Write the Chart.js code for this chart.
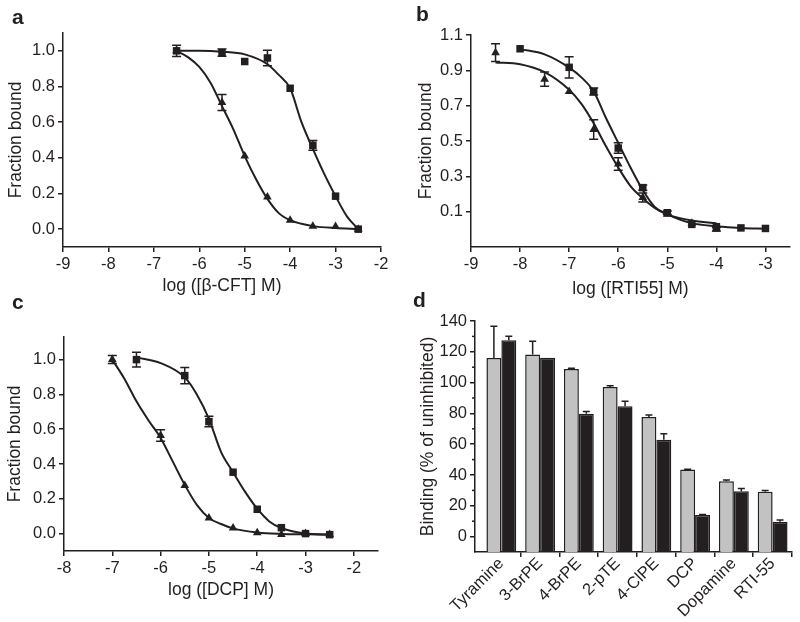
<!DOCTYPE html>
<html>
<head>
<meta charset="utf-8">
<script src="https://cdn.jsdelivr.net/npm/chart.js@4.4.1/dist/chart.umd.min.js"></script>
<style>
  body { margin: 0; background: #fff; }
  #wrap { position: relative; width: 800px; height: 622px; font-family: 'Liberation Sans', Arial, sans-serif; }
  canvas { position: absolute; }
  .tag { position: absolute; font-weight: bold; font-size: 21px; line-height: 1; color: #231f20; }
</style>
</head>
<body>
<div id="wrap">
  <canvas id="chartA" width="400" height="300" style="left:0;top:0"></canvas>
  <canvas id="chartB" width="400" height="300" style="left:400px;top:0"></canvas>
  <canvas id="chartC" width="400" height="322" style="left:0;top:300px"></canvas>
  <canvas id="chartD" width="400" height="322" style="left:400px;top:300px"></canvas>
  <div class="tag" style="left:12px;top:6px">a</div>
  <div class="tag" style="left:416px;top:3px">b</div>
  <div class="tag" style="left:12px;top:291px">c</div>
  <div class="tag" style="left:413px;top:289px">d</div>
</div>
<script>
// ---- panel a: beta-CFT
const aXTicks = [-9, -8, -7, -6, -5, -4, -3, -2];
const aYTicks = [0, 0.2, 0.4, 0.6, 0.8, 1.0];
const aSqX = [-6.5, -5.5, -5, -4.5, -4, -3.5, -3, -2.5];
const aSqY = [1.0, 0.99, 0.94, 0.96, 0.79, 0.47, 0.185, 0.0];
const aSqErr = [0.032, 0.02, 0, 0.043, 0, 0.027, 0, 0];
const aTriX = [-6.5, -5.5, -5, -4.5, -4, -3.5, -3, -2.5];
const aTriY = [1.0, 0.71, 0.41, 0.18, 0.05, 0.017, 0.015, 0.0];
const aTriErr = [0, 0.045, 0, 0, 0, 0, 0, 0];
const aFitSqX = [-6.5, -6, -5.5, -5, -4.5, -4.25, -4, -3.75, -3.5, -3.25, -3, -2.75, -2.5];
const aFitSqY = [1.0, 1.0, 0.995, 0.98, 0.925, 0.865, 0.79, 0.60, 0.45, 0.31, 0.185, 0.072, 0.0];
const aFitTriX = [-6.5, -6.25, -6, -5.75, -5.5, -5.25, -5, -4.75, -4.5, -4.25, -4, -3.75, -3.5, -3, -2.5];
const aFitTriY = [1.0, 0.965, 0.91, 0.82, 0.69, 0.56, 0.41, 0.28, 0.17, 0.09, 0.05, 0.03, 0.017, 0.006, 0.0];

// ---- panel b: RTI55
const bXTicks = [-9, -8, -7, -6, -5, -4, -3];
const bYTicks = [0.1, 0.3, 0.5, 0.7, 0.9, 1.1];
const bSqX = [-8, -7, -6.5, -6, -5.5, -5, -4.5, -4, -3.5, -3];
const bSqY = [1.022, 0.917, 0.78, 0.46, 0.236, 0.094, 0.028, 0.015, 0.008, 0.005];
const bSqErr = [0, 0.06, 0.02, 0.03, 0.015, 0.01, 0, 0, 0, 0];
const bTriX = [-8.5, -7.5, -7, -6.5, -6, -5.5, -5, -4.5, -4];
const bTriY = [1.0, 0.85, 0.78, 0.565, 0.37, 0.18, 0.085, 0.035, 0.0];
const bTriErr = [0.05, 0.04, 0, 0.055, 0.035, 0.025, 0, 0, 0.01];
const bFitSqX = [-8, -7.5, -7, -6.75, -6.5, -6.25, -6, -5.75, -5.5, -5.25, -5, -4.5, -4, -3.5, -3];
const bFitSqY = [1.02, 0.99, 0.915, 0.86, 0.78, 0.63, 0.49, 0.35, 0.223, 0.125, 0.085, 0.035, 0.018, 0.008, 0.004];
const bFitTriX = [-8.5, -8, -7.5, -7, -6.75, -6.5, -6.25, -6, -5.75, -5.5, -5.25, -5, -4.5, -4];
const bFitTriY = [0.945, 0.935, 0.89, 0.79, 0.71, 0.60, 0.47, 0.35, 0.245, 0.176, 0.12, 0.085, 0.05, 0.035];

// ---- panel c: DCP
const cXTicks = [-8, -7, -6, -5, -4, -3, -2];
const cYTicks = [0, 0.2, 0.4, 0.6, 0.8, 1.0];
const cSqX = [-6.5, -5.5, -5, -4.5, -4, -3.5, -3, -2.5];
const cSqY = [1.0, 0.908, 0.644, 0.353, 0.14, 0.034, 0.0, -0.006];
const cSqErr = [0.043, 0.046, 0.03, 0, 0, 0, 0, 0];
const cTriX = [-7, -6, -5.5, -5, -4.5, -4, -3.5, -3, -2.5];
const cTriY = [1.0, 0.564, 0.277, 0.09, 0.032, 0.005, -0.005, 0.0, -0.005];
const cTriErr = [0.023, 0.033, 0, 0, 0, 0, 0, 0, 0];
const cFitSqX = [-6.5, -6, -5.5, -5.25, -5, -4.75, -4.5, -4.25, -4, -3.75, -3.5, -3, -2.5];
const cFitSqY = [1.013, 0.98, 0.898, 0.80, 0.66, 0.47, 0.353, 0.24, 0.143, 0.07, 0.032, 0.0, -0.006];
const cFitTriX = [-7, -6.75, -6.5, -6.25, -6, -5.75, -5.5, -5.25, -5, -4.75, -4.5, -4, -3.5, -3, -2.5];
const cFitTriY = [1.0, 0.89, 0.76, 0.65, 0.55, 0.415, 0.28, 0.165, 0.09, 0.055, 0.03, 0.006, -0.002, -0.004, -0.005];

// ---- panel d: binding bars
const dCategories = ['Tyramine', '3-BrPE', '4-BrPE', '2-pTE', '4-ClPE', 'DCP', 'Dopamine', 'RTI-55'];
const dGray = [116, 118.3, 108.9, 97.2, 77.6, 43.5, 36.0, 29.2];
const dGrayErr = [20.6, 8.6, 0.4, 0.7, 1.3, 0.2, 0.8, 0.8];
const dBlack = [127.5, 116.1, 79.7, 84.7, 62.9, 14.0, 29.5, 9.6];
const dBlackErr = [2.6, 0, 1.5, 3.2, 3.9, 0.3, 1.7, 1.1];
const dYTicks = [0, 20, 40, 60, 80, 100, 120, 140];
const dYMinor = [10, 30, 50, 70, 90, 110, 130];

const ink = '#231f20';
const family = "'Liberation Sans', Arial, sans-serif";
const tickFont = { family: family, size: 16.5 };
const titleFont = { family: family, size: 17.5 };
Chart.defaults.font.family = family;
Chart.defaults.color = ink;

// error bars drawn through the y scale
const errorBars = {
  id: 'errorBars',
  afterDatasetsDraw(chart, args, opts) {
    const ctx = chart.ctx;
    const ys = chart.scales.y;
    const half = (opts.cap || 9) / 2;
    chart.data.datasets.forEach((ds, i) => {
      if (!ds.errors) return;
      const meta = chart.getDatasetMeta(i);
      ctx.save();
      ctx.strokeStyle = ink;
      ctx.lineWidth = 1.5;
      meta.data.forEach((el, j) => {
        const err = ds.errors[j];
        if (!err) return;
        const v = meta.controller.getParsed(j).y;
        const top = ys.getPixelForValue(v + err);
        const bot = ds.upOnly ? ys.getPixelForValue(v) : ys.getPixelForValue(v - err);
        ctx.beginPath();
        ctx.moveTo(el.x, top); ctx.lineTo(el.x, bot);
        ctx.moveTo(el.x - half, top); ctx.lineTo(el.x + half, top);
        if (!ds.upOnly) { ctx.moveTo(el.x - half, bot); ctx.lineTo(el.x + half, bot); }
        ctx.stroke();
      });
      ctx.restore();
    });
  }
};

// short minor ticks on the y axis
const minorTicks = {
  id: 'minorTicks',
  afterDraw(chart, args, opts) {
    if (!opts.values) return;
    const s = chart.scales.y;
    const ctx = chart.ctx;
    ctx.save();
    ctx.strokeStyle = ink;
    ctx.lineWidth = 1.5;
    opts.values.forEach(v => {
      const y = s.getPixelForValue(v);
      ctx.beginPath();
      ctx.moveTo(s.right - opts.length, y);
      ctx.lineTo(s.right, y);
      ctx.stroke();
    });
    ctx.restore();
  }
};

function pts(xs, ys) {
  return xs.map((x, i) => ({ x: x, y: ys[i] }));
}

function markers(xs, ys, errs, style, r) {
  return {
    data: pts(xs, ys), errors: errs, showLine: false,
    pointStyle: style, pointRadius: r, pointHoverRadius: r,
    backgroundColor: ink, borderColor: ink, borderWidth: 0, order: 0
  };
}

function fitLine(xs, ys) {
  return {
    data: pts(xs, ys), showLine: true, pointRadius: 0, pointHoverRadius: 0,
    borderColor: ink, borderWidth: 2, cubicInterpolationMode: 'monotone', order: 1
  };
}

function axisStyle() {
  return {
    grid: { drawOnChartArea: false, tickLength: 5, color: ink, lineWidth: 1.5 },
    border: { color: ink, width: 1.5 }
  };
}

function curveChart(id, p) {
  return new Chart(document.getElementById(id), {
    type: 'scatter',
    data: { datasets: p.datasets },
    options: {
      responsive: false,
      animation: false,
      layout: { padding: { top: p.top, right: p.right, left: 0, bottom: 0 } },
      plugins: { legend: { display: false }, tooltip: { enabled: false }, errorBars: { cap: 9 } },
      scales: {
        x: Object.assign(axisStyle(), {
          min: p.xMin, max: p.xMax,
          afterBuildTicks: s => { s.ticks = p.xTicks.map(v => ({ value: v })); },
          afterFit: s => { s.height = p.xHeight; },
          ticks: { font: tickFont, color: ink, padding: 3, callback: v => String(v) },
          title: { display: true, text: p.xTitle, font: titleFont, color: ink, padding: { top: 0, bottom: p.xTitlePad } }
        }),
        y: Object.assign(axisStyle(), {
          min: p.yMin, max: p.yMax,
          afterBuildTicks: s => { s.ticks = p.yTicks.map(v => ({ value: v })); },
          afterFit: s => { s.width = p.yWidth; },
          ticks: { font: tickFont, color: ink, padding: 3, callback: v => v.toFixed(1) },
          title: { display: true, text: 'Fraction bound', font: titleFont, color: ink, padding: { top: p.yTitlePad, bottom: 0 } }
        })
      }
    },
    plugins: [errorBars]
  });
}

curveChart('chartA', {
  datasets: [
    markers(aTriX, aTriY, aTriErr, 'triangle', 5),
    markers(aSqX, aSqY, aSqErr, 'rect', 5.3),
    fitLine(aFitSqX, aFitSqY),
    fitLine(aFitTriX, aFitTriY)
  ],
  xMin: -9, xMax: -2, xTicks: aXTicks, xTitle: 'log ([β-CFT] M)',
  yMin: -0.1, yMax: 1.1, yTicks: aYTicks,
  top: 33, right: 19, xHeight: 53, yWidth: 63, xTitlePad: 3, yTitlePad: 6
});

curveChart('chartB', {
  datasets: [
    markers(bTriX, bTriY, bTriErr, 'triangle', 5),
    markers(bSqX, bSqY, bSqErr, 'rect', 5.3),
    fitLine(bFitSqX, bFitSqY),
    fitLine(bFitTriX, bFitTriY)
  ],
  xMin: -9, xMax: -2.5, xTicks: bXTicks, xTitle: 'log ([RTI55] M)',
  yMin: -0.1, yMax: 1.1, yTicks: bYTicks,
  top: 35, right: 10, xHeight: 53, yWidth: 71, xTitlePad: 0, yTitlePad: 16
});

curveChart('chartC', {
  datasets: [
    markers(cTriX, cTriY, cTriErr, 'triangle', 5),
    markers(cSqX, cSqY, cSqErr, 'rect', 5.3),
    fitLine(cFitSqX, cFitSqY),
    fitLine(cFitTriX, cFitTriY)
  ],
  xMin: -8, xMax: -1.5, xTicks: cXTicks, xTitle: 'log ([DCP] M)',
  yMin: -0.1, yMax: 1.13, yTicks: cYTicks,
  top: 37, right: 22, xHeight: 71, yWidth: 64, xTitlePad: 21, yTitlePad: 5
});

// bar chart on a linear index axis so the first group sits a little off the y axis
const dPos = dCategories.map((c, i) => i + 0.5);
new Chart(document.getElementById('chartD'), {
  type: 'bar',
  data: {
    datasets: [
      { data: pts(dPos, dGray), errors: dGrayErr, upOnly: true, base: -10,
        backgroundColor: '#c2c2c2', borderColor: ink, borderWidth: 1.5,
        categoryPercentage: 0.77, barPercentage: 1.0 },
      { data: pts(dPos, dBlack), errors: dBlackErr, upOnly: true, base: -10,
        backgroundColor: ink, borderColor: ink, borderWidth: 1.5,
        categoryPercentage: 0.77, barPercentage: 1.0 }
    ]
  },
  options: {
    responsive: false,
    animation: false,
    layout: { padding: { top: 21, right: 8, left: 0, bottom: 0 } },
    plugins: {
      legend: { display: false }, tooltip: { enabled: false },
      errorBars: { cap: 7 },
      minorTicks: { values: dYMinor, length: 3 }
    },
    scales: {
      x: {
        type: 'linear', min: -0.18, max: 8, offset: false,
        afterBuildTicks: s => { s.ticks = dPos.map(v => ({ value: v })); },
        afterFit: s => { s.height = 70; },
        ticks: { font: tickFont, color: ink, autoSkip: false, minRotation: 45, maxRotation: 45, padding: -3,
                 callback: (v, i) => dCategories[i] },
        grid: { offset: true, drawOnChartArea: false, tickLength: 5, color: ink, lineWidth: 1.5,
                tickColor: c => c.index === 0 ? 'rgba(0,0,0,0)' : ink },
        border: { color: ink, width: 1.5 }
      },
      y: Object.assign(axisStyle(), {
        min: -10, max: 140,
        afterBuildTicks: s => { s.ticks = dYTicks.map(v => ({ value: v })); },
        afterFit: s => { s.width = 75; },
        ticks: { font: tickFont, color: ink, padding: 3, callback: v => String(v) },
        title: { display: true, text: 'Binding (% of uninhibited)', font: titleFont, color: ink, padding: { top: 18, bottom: 0 } }
      })
    }
  },
  plugins: [errorBars, minorTicks]
});
</script>
</body>
</html>
